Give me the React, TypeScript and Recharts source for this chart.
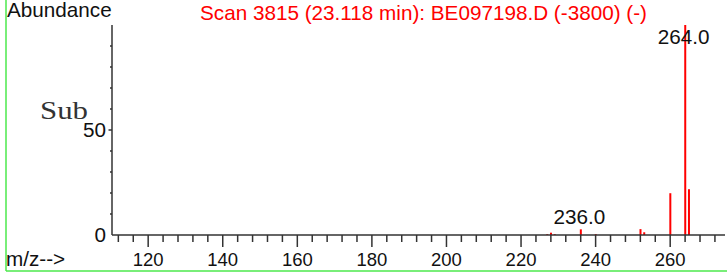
import React from "react";
import { ComposedChart, Bar, XAxis, YAxis, LabelList } from "recharts";

const mzValues = [227, 228, 229, 236, 240, 252, 253, 260, 264, 265];
const abundance = [0.4, 1.1, 0.4, 2.7, 0.4, 2.8, 1.3, 19.9, 100, 21.8];
const peakLabels = ["", "", "", "236.0", "", "", "", "", "264.0", ""];
const xTicks = [112, 116, 120, 124, 128, 132, 136, 140, 144, 148, 152, 156, 160, 164, 168, 172, 176, 180, 184, 188, 192, 196, 200, 204, 208, 212, 216, 220, 224, 228, 232, 236, 240, 244, 248, 252, 256, 260, 264, 268, 272];
const yTicks = [0, 10, 20, 30, 40, 50, 60, 70, 80, 90];
const yLabelled = [0, 50];
const titleText = "Scan 3815 (23.118 min): BE097198.D (-3800) (-)";

const data = mzValues.map((mz, i) => ({ mz, ab: abundance[i], label: peakLabels[i] }));

const FONT = "'Liberation Sans', Arial, sans-serif";
const SERIF = "'Liberation Serif', 'Times New Roman', serif";
const AXIS = "#333";

const XTick = (props: any) => {
  const { x, y, payload } = props;
  const v = payload.value;
  const major = v % 20 === 0;
  return (
    <g>
      <line x1={x} x2={x} y1={y} y2={y + (major ? 12 : 7)} stroke={AXIS} strokeWidth={1.5} />
      {major && (
        <text x={x} y={y + 31} textAnchor="middle" fontSize={18.5} fontFamily={FONT} fill="#111">
          {v}
        </text>
      )}
    </g>
  );
};

const YTick = (props: any) => {
  const { x, y, payload } = props;
  const v = payload.value;
  const labelled = yLabelled.includes(v);
  return (
    <g>
      {v !== 0 && <line x1={x - (v === 50 ? 3.5 : 2)} x2={x} y1={y} y2={y} stroke={AXIS} strokeWidth={1.5} />}
      {labelled && (
        <text x={x - 6} y={y + 6.5} textAnchor="end" fontSize={20.7} fontFamily={FONT} fill="#111">
          {v}
        </text>
      )}
    </g>
  );
};

const PeakLabel = (props: any) => {
  const { x, y, width, value } = props;
  if (!value) return null;
  const cx = x + width / 2 - 1.5;
  const baseline = Math.max(y - 5, 43.5);
  return (
    <text x={cx} y={baseline} textAnchor="middle" fontSize={20.7} fontFamily={FONT} fill="#111">
      {value}
    </text>
  );
};

export default function App() {
  return (
    <div style={{ position: "absolute", left: 0, top: 0, width: 727, height: 273, background: "#fff" }}>
      <ComposedChart width={727} height={273} data={data} margin={{ top: 25, right: 2, bottom: 0, left: 0 }}>
        <XAxis
          dataKey="mz"
          type="number"
          domain={[110.3, 274.7]}
          allowDataOverflow
          ticks={xTicks}
          interval={0}
          tick={<XTick />}
          tickLine={false}
          tickSize={0}
          tickMargin={0}
          height={38}
          axisLine={{ stroke: AXIS, strokeWidth: 1.5 }}
        />
        <YAxis
          type="number"
          domain={[0, 100]}
          allowDataOverflow
          ticks={yTicks}
          interval={0}
          tick={<YTick />}
          tickLine={false}
          tickSize={0}
          tickMargin={0}
          width={112}
          axisLine={{ stroke: AXIS, strokeWidth: 1.5 }}
        />
        <Bar dataKey="ab" fill="#ff0000" barSize={2} isAnimationActive={false}>
          <LabelList dataKey="label" content={<PeakLabel />} />
        </Bar>
      </ComposedChart>
      <svg
        width={727}
        height={273}
        style={{ position: "absolute", left: 0, top: 0, pointerEvents: "none" }}
      >
        <line x1={6} x2={6} y1={0} y2={271} stroke="#4de84d" strokeWidth={1.5} />
        <line x1={6} x2={727} y1={271} y2={271} stroke="#4de84d" strokeWidth={1.5} />
        <text x={7} y={16.5} fontSize={20.7} fontFamily={FONT} fill="#111">Abundance</text>
        <text x={423.5} y={19.5} textAnchor="middle" fontSize={20.7} fontFamily={FONT} fill="#ff0000">
          {titleText}
        </text>
        <text
          x={40}
          y={119}
          fontSize={25}
          fontFamily={SERIF}
          textLength={48}
          lengthAdjust="spacingAndGlyphs"
          fill="#333"
        >
          Sub
        </text>
        <text x={6} y={266} fontSize={20.7} fontFamily={FONT} fill="#111">m/z--&gt;</text>
      </svg>
    </div>
  );
}
